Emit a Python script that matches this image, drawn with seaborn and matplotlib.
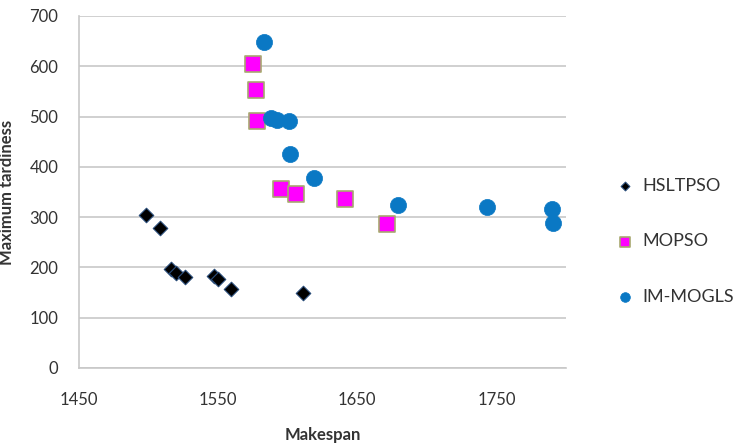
import matplotlib
matplotlib.use("Agg")
import matplotlib.pyplot as plt
import seaborn as sns
import pandas as pd

# valores
hsltpso_x = [1498, 1508, 1516, 1520, 1526, 1547, 1550, 1559, 1611]
hsltpso_y = [305, 279, 196, 189, 180, 183, 177, 158, 150]

mopso_x = [1575, 1577, 1578, 1595, 1606, 1641, 1671]
mopso_y = [604, 553, 491, 355, 347, 336, 286]

immogls_x = [1583, 1588, 1592, 1601, 1602, 1619, 1679, 1743, 1790, 1791]
immogls_y = [649, 497, 494, 491, 425, 378, 325, 321, 316, 289]

series = ["HSLTPSO", "MOPSO", "IM-MOGLS"]

sns.set_style("white")
plt.rcParams['font.family'] = ['Lato', 'DejaVu Sans']

df = pd.concat([
    pd.DataFrame({"x": hsltpso_x, "y": hsltpso_y, "alg": "HSLTPSO"}),
    pd.DataFrame({"x": mopso_x, "y": mopso_y, "alg": "MOPSO"}),
    pd.DataFrame({"x": immogls_x, "y": immogls_y, "alg": "IM-MOGLS"}),
])

styles = {
    "HSLTPSO": dict(marker="D", s=55, color="black", edgecolor="#2a4d7a", linewidth=0.8),
    "MOPSO": dict(marker="s", s=125, color="#ff00ff", edgecolor="#a8a870", linewidth=1.2),
    "IM-MOGLS": dict(marker="o", s=135, color="#0a78c4", edgecolor="#0a78c4", linewidth=0.5),
}

fig = plt.figure(figsize=(7.52, 4.43), dpi=100)
ax = fig.add_axes([79 / 752, 1 - 368 / 443, (566 - 79) / 752, (368 - 16) / 443])

for name in series:
    sns.scatterplot(data=df[df["alg"] == name], x="x", y="y", ax=ax,
                    label=name, zorder=3, **styles[name])

ax.set_xlim(1450, 1800)
ax.set_ylim(0, 700)
ax.set_xticks([1450, 1550, 1650, 1750])
ax.set_yticks(range(0, 701, 100))
ax.yaxis.grid(True, color="#c8c8c8", linewidth=1.2)
ax.xaxis.grid(False)
for side in ["top", "right"]:
    ax.spines[side].set_visible(False)
for side in ["left", "bottom"]:
    ax.spines[side].set_color("#c8c8c8")
    ax.spines[side].set_linewidth(1.2)
ax.tick_params(axis="both", labelsize=12, length=5, width=1.0, direction="out")
ax.tick_params(axis="x", colors="#c8c8c8", labelcolor="#333333", pad=12)
ax.tick_params(axis="y", colors="#c8c8c8", labelcolor="#333333", pad=10)
ax.set_xlabel("Makespan", fontsize=12, fontweight="bold", color="#333333", labelpad=14)
ax.set_ylabel("Maximum tardiness", fontsize=12, fontweight="bold", color="#333333", labelpad=10)

leg = ax.legend(loc="center left", bbox_to_anchor=(1.05, 0.36), frameon=False,
                fontsize=13, handletextpad=0.0, labelspacing=2.2, markerscale=0.6)
for t in leg.get_texts():
    t.set_color("#333333")

fig.savefig("out.png", dpi=100)
